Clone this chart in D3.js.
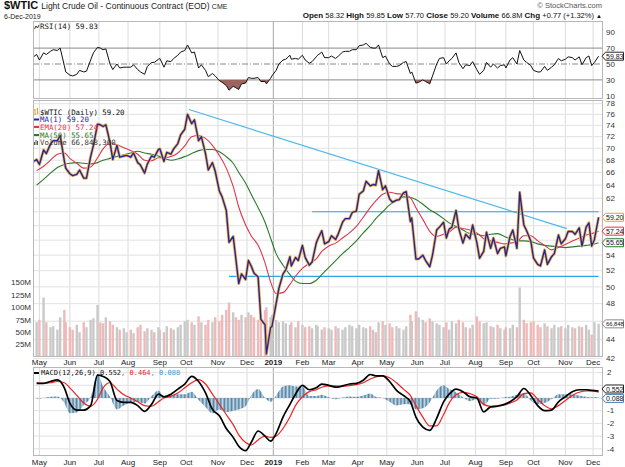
<!doctype html>
<html lang="en">
<head>
<meta charset="UTF-8" />
<title>$WTIC Light Crude Oil</title>
<script src="https://d3js.org/d3.v7.min.js"></script>
<style>
  html,body{margin:0;padding:0;background:#fff;}
  svg{display:block;font-family:Arial,"Liberation Sans",sans-serif;}
  .mono{font-family:"DejaVu Sans Mono",monospace;}
</style>
</head>
<body>
<div id="chart"></div>
<script>
/* ───────── data ───────── */
// market holidays (no bar drawn)
const holidays=["2018-05-28","2018-07-04","2018-09-03","2018-11-22","2018-12-05","2018-12-25",
  "2019-01-01","2019-01-21","2019-02-18","2019-04-19","2019-05-27","2019-07-04","2019-09-02","2019-11-28"];

// closes, two per week (Tue, Fri) from 24-Apr-2018 to 6-Dec-2019
const closes=[
  67.7,68.1, 67.3,69.7, 69.1,70.7, 71.3,71.3, 72.2,67.9,               // May 18
  66.7,65.8, 65.5,65.7, 66.4,65.1, 65.1,68.6, 70.5,74.2,               // Jun
  74.1,73.8, 74.1,71.0, 68.1,70.5, 68.5,68.7,                          // Jul
  68.8,68.5, 69.2,67.6, 67.2,65.9, 67.4,68.7, 68.5,69.8,               // Aug
  69.9,67.8, 69.3,69.0, 69.9,70.8, 72.3,73.3,                          // Sep
  76.0,74.3, 75.0,71.3, 72.0,69.1, 66.4,67.6,                          // Oct
  66.2,63.1, 62.2,60.2, 55.7,56.5, 53.4,50.4, 51.6,50.9,               // Nov
  53.3,52.6, 51.7,51.2, 46.2,45.6, 42.5,45.3,                          // Dec
  45.4,48.0, 49.8,51.6, 52.1,53.8, 52.6,53.7,                          // Jan 19
  53.3,55.3, 53.7,52.7, 53.1,55.6, 56.1,57.3,                          // Feb
  55.5,55.8, 56.6,56.1, 56.9,58.5, 59.0,59.0, 59.9,60.1,               // Mar
  62.6,63.1, 64.6,63.9, 64.1,64.0, 66.3,63.3,                          // Apr
  63.9,61.9, 61.4,61.7, 61.8,62.8, 63.0,58.6, 59.1,53.5,               // May
  53.5,54.0, 53.3,52.5, 54.0,57.4, 57.8,58.5,                          // Jun
  56.3,57.5, 57.8,60.2, 57.6,55.6, 56.8,56.2,                          // Jul
  58.1,55.7, 53.6,54.5, 57.1,54.9, 56.3,54.2, 54.9,55.1,               // Aug
  53.9,56.5, 57.4,54.9, 62.9,58.1, 57.3,55.9,                          // Sep
  53.6,52.8, 52.6,54.7, 52.8,53.8, 54.2,56.7,                          // Oct
  55.5,56.2, 57.2,57.2, 56.8,57.7, 55.2,57.8, 58.4,55.2,               // Nov
  56.1,59.2                                                            // Dec
];

// RSI(14), same two-per-week points
const rsi14=[
  58,62, 55,64, 62,66, 68,67, 70,48,
  40,36, 35,37, 42,40, 41,55, 64,71,
  70,68, 69,50, 43,50, 45,46,
  46,46, 49,43, 40,37, 47,52, 52,56,
  57,46, 54,53, 57,61, 65,67,
  74,64, 65,45, 49,42, 34,38,
  35,29, 27,23, 17,22, 20,18, 25,26,
  33,32, 32,33, 28,28, 25,32,
  35,42, 50,55, 56,61, 56,57,
  56,61, 55,51, 53,59, 61,65,
  58,58, 60,57, 60,65, 66,66, 68,68,
  73,74, 76,71, 70,70, 74,58,
  60,50, 47,47, 48,52, 53,38, 40,26,
  27,30, 28,25, 35,50, 57,58,
  50,54, 57,64, 52,44, 49,48,
  53,43, 37,42, 52,46, 50,45, 48,49,
  45,55, 58,50, 67,55, 52,48,
  42,40, 40,47, 42,46, 49,57,
  54,56, 59,58, 55,59, 49,58, 60,48,
  52,59.83
];

// volume (millions), same two-per-week points
const volumes=[
  65,70, 75,120, 70,60, 62,55, 80,95,
  70,60, 55,65, 50,70, 60,75, 78,105,
  70,68, 80,72, 65,60, 55,58,
  50,55, 48,60, 65,52, 58,55, 50,60,
  55,50, 62,58, 55,60, 65,72,
  75,70, 65,82, 70,65, 75,70,
  80,72, 85,95, 110,90, 80,75, 85,80,
  90,85, 80,75, 88,95, 100,80,
  85,75, 70,72, 68,65, 70,60,
  72,65, 60,62, 58,65, 62,55,
  60,58, 55,62, 58,55, 60,65, 62,58,
  65,60, 58,62, 55,50, 70,72,
  65,68, 60,62, 58,55, 62,85, 72,92,
  80,75, 70,78, 72,68, 65,60,
  70,55, 72,68, 75,70, 60,58,
  65,82, 72,68, 70,62, 60,65, 58,55,
  60,58, 65,60, 140,75, 68,70,
  72,65, 60,68, 62,58, 65,60,
  62,58, 65,60, 58,62, 60,65, 55,45,
  70,66.8
];

// weekly (Friday) indicator values
const ema20=[66.3,67.0,68.0,69.0,69.2, 68.3,67.5,66.7,66.9,68.4, 69.9,70.8,70.6,70.1,
  69.6,69.0,68.0,67.9,68.4, 68.4,68.6,69.2,70.4, 72.0,72.2,71.7,70.5,
  68.8,66.7,63.8,60.7,58.1, 56.6,55.3,53.0,50.6,
  49.2,49.3,50.3,51.3, 52.3,52.9,53.5,54.5, 55.2,55.6,56.3,57.0,57.9,
  59.2,60.6,61.6,62.6, 62.9,62.7,62.6,62.1,60.6, 58.9,57.2,56.5,56.8,
  57.1,57.8,57.6,57.4, 57.0,56.2,55.9,55.7,55.5, 55.6,55.8,56.6,56.6,
  55.9,55.3,54.7,55.0, 55.4,55.9,56.3,56.7,56.9, 57.24];
const ma50=[64.0,64.9,65.9,66.8,67.3, 67.5,67.6,67.5,67.4,67.6, 68.0,68.3,68.6,68.9,
  69.2,69.5,69.2,69.0,68.7, 68.3,68.0,68.2,68.6, 69.1,69.6,69.8,69.8,
  69.4,68.6,67.5,66.0,64.3, 62.6,60.6,58.5,56.3,
  54.2,52.7,51.5,50.7, 50.4,50.4,50.8,51.5, 52.4,53.3,54.2,55.0,55.9,
  57.0,58.0,59.0,60.0, 61.0,61.7,62.2,62.1,61.8, 61.1,60.3,59.7,59.0,
  58.4,57.9,57.4,56.9, 56.8,56.6,56.8,56.9,56.5, 56.2,55.9,55.9,55.8,
  55.5,55.3,55.2,55.1, 55.0,55.1,55.2,55.3,55.4, 55.65];
const macdLine=[1.15,1.15,1.3,1.42,0.8, -0.4,-0.95,-0.95,-0.6,1.8, 1.7,1.3,-0.2,-0.35,
  -0.35,-0.6,-1.05,-0.5,0.3, 0.1,0.3,0.7,1.1, 1.7,1.3,0.4,-0.9,
  -1.4,-2.4,-3.1,-3.8,-4.15, -3.5,-2.6,-3.0,-3.4,
  -2.8,-1.5,-0.5,0.3, 1.0,0.65,0.8,1.1, 1.0,0.85,0.95,1.1,1.15,
  1.4,1.85,1.75,1.75, 1.3,0.6,0.2,-0.3,-1.5, -2.3,-2.55,-1.6,-0.3,
  0.3,0.7,0.5,0.1, 0.0,-1.1,-0.7,-0.65,-0.5, -0.3,0.1,0.75,0.2,
  -0.6,-1.0,-0.95,-0.3, 0.1,0.5,0.65,0.65,0.6, 0.552];
const macdSignal=[1.2,1.15,1.2,1.3,1.2, 0.8,0.2,-0.4,-0.65,-0.1, 0.8,1.2,0.7,0.25,
  0.0,-0.3,-0.6,-0.65,-0.3, 0.0,0.15,0.4,0.8, 1.2,1.45,1.1,0.3,
  -0.5,-1.3,-2.1,-2.9,-3.5, -3.7,-3.3,-3.0,-3.1,
  -3.0,-2.4,-1.5,-0.6, 0.1,0.5,0.65,0.85, 0.95,0.95,0.92,0.98,1.05,
  1.2,1.5,1.65,1.75, 1.6,1.2,0.7,0.2,-0.6, -1.5,-2.2,-2.2,-1.3,
  -0.4,0.25,0.45,0.35, 0.1,-0.5,-0.65,-0.6,-0.55, -0.4,-0.15,0.35,0.4,
  -0.1,-0.6,-0.85,-0.6, -0.2,0.2,0.45,0.55,0.55, 0.464];

// drawn trend / support / resistance lines  [date, price]
const trendLine=[["2018-10-03",76.9],["2019-11-04",57.6]];
const resistance=[["2019-02-12",60.0],["2019-12-06",60.0]];
const support=[["2018-11-13",51.3],["2019-12-06",51.3]];

const priceTicks=[42,44,46,48,50,52,54,56,58,60,62,64,66,68,70,72,74,76,78];
const volTicks=[25,50,75,100,125,150];
const rsiTicks=[10,30,50,70,90];
const macdTicks=[-4,-3,-2,-1,0,1,2];

/* ───────── geometry ───────── */
const W=625,H=467,L=33,R=603;
const RSI_T=21,RSI_B=99,PR_T=100,PR_B=357,MC_T=367,MC_B=456;

const svg=d3.select('#chart').append('svg').attr('width',W).attr('height',H);

const fmt=d3.timeFormat('%Y-%m-%d');
const days=d3.timeDay.range(new Date(2018,3,24),new Date(2019,11,7))
  .filter(d=>d.getDay()!==0&&d.getDay()!==6&&!holidays.includes(fmt(d)));
const dayIdx=new Map(days.map((d,i)=>[fmt(d),i]));
const x=d3.scaleLinear().domain([0,days.length-1]).range([32.5,598.6]);

const weeks=d3.groups(days.map((d,i)=>({d,i})),o=>+d3.timeWeek.floor(o.d)).map(g=>g[1]);
const weekEnd=weeks.map(w=>w[w.length-1].i);
const weekMid=weeks.map(w=>{const t=w.find(o=>o.d.getDay()===2);return t?t.i:w.filter(o=>o.d.getDay()<2).pop().i;});
const halfIdx=weeks.flatMap((w,k)=>[weekMid[k],weekEnd[k]]);
const monthIdx=days.map((d,i)=>i).filter(i=>i>0&&days[i].getMonth()!==days[i-1].getMonth());

const yP=d3.scaleLog().domain([42.17,78.7]).range([PR_B,PR_T]);
const yV=d3.scaleLinear().domain([0,518]).range([PR_B,PR_T]);
const yR=d3.scaleLinear().domain([5.97,104.1]).range([RSI_B,RSI_T]);
const yM=d3.scaleLinear().domain([-4.567,2.441]).range([MC_B,MC_T]);

const defs=svg.append('defs');
[['clipR',RSI_T,RSI_B],['clipP',PR_T,PR_B],['clipM',MC_T,MC_B]].forEach(([id,t,b])=>{
  defs.append('clipPath').attr('id',id).append('rect').attr('x',L).attr('y',t).attr('width',R-L).attr('height',b-t);
});
const pat=defs.append('pattern').attr('id','histStripes').attr('patternUnits','userSpaceOnUse')
  .attr('width',1.384).attr('height',10);
pat.append('rect').attr('width',0.9).attr('height',10).attr('fill','#4f83a6');

/* ───────── panel backgrounds + grids ───────── */
function panel(t,b,hLines,yScale){
  const g=svg.append('g');
  g.append('rect').attr('x',L).attr('y',t).attr('width',R-L).attr('height',b-t).attr('fill','#fff');
  g.selectAll('line.v').data(monthIdx).join('line')
    .attr('x1',i=>x(i)).attr('x2',i=>x(i)).attr('y1',t).attr('y2',b)
    .attr('stroke',i=>days[i].getMonth()===0?'#a8a8a8':'#dcdcdc').attr('stroke-width',1);
  g.selectAll('line.h').data(hLines).join('line')
    .attr('x1',L).attr('x2',R).attr('y1',d=>yScale(d)).attr('y2',d=>yScale(d))
    .attr('stroke','#e2e2e2').attr('stroke-width',1);
  return g;
}
panel(RSI_T,RSI_B,[],yR);
panel(PR_T,PR_B,priceTicks,yP);
panel(MC_T,MC_B,macdTicks,yM);

/* ───────── RSI ───────── */
const gR=svg.append('g').attr('clip-path','url(#clipR)');
[70,30].forEach(v=>gR.append('line').attr('x1',L).attr('x2',R).attr('y1',yR(v)).attr('y2',yR(v))
  .attr('stroke','#8a8a8a').attr('stroke-width',1));
gR.append('line').attr('x1',L).attr('x2',R).attr('y1',yR(50)).attr('y2',yR(50))
  .attr('stroke','#8a8a8a').attr('stroke-dasharray','6,2,1,2');
defs.append('clipPath').attr('id','below30').append('rect')
  .attr('x',L).attr('y',yR(30)).attr('width',R-L).attr('height',RSI_B-yR(30));
gR.append('path').attr('clip-path','url(#below30)')
  .attr('d',d3.area().x((d,k)=>x(halfIdx[k])).y0(yR(30)).y1(d=>yR(d))(rsi14))
  .attr('fill','#9e645e');
gR.append('path').attr('d',d3.line().x((d,k)=>x(halfIdx[k])).y(d=>yR(d))(rsi14))
  .attr('fill','none').attr('stroke','#111').attr('stroke-width',1);

/* ───────── price panel ───────── */
const gP=svg.append('g').attr('clip-path','url(#clipP)');
gP.selectAll('rect.vol').data(volumes).join('rect')
  .attr('x',(d,k)=>x(halfIdx[k])-1.2).attr('width',2.4)
  .attr('y',d=>yV(d)).attr('height',d=>PR_B-yV(d))
  .attr('fill',(d,k)=>k>0&&closes[k]<closes[k-1]?'#eeb9b9':'#c9c9c9');

const lineAt=pts=>d3.line().x(p=>x(dayIdx.get(p[0]))).y(p=>yP(p[1]))(pts);
[trendLine,resistance,support].forEach(pts=>gP.append('path').attr('d',lineAt(pts))
  .attr('fill','none').attr('stroke',pts===trendLine?'#4db8ec':'#29a8e8').attr('stroke-width',1.2));

const wline=arr=>d3.line().curve(d3.curveMonotoneX).x((d,k)=>x(weekEnd[k])).y(d=>yP(d))(arr);
gP.append('path').attr('d',wline(ma50)).attr('fill','none').attr('stroke','#2b7a2b').attr('stroke-width',1.1);
gP.append('path').attr('d',wline(ema20)).attr('fill','none').attr('stroke','#e0364a').attr('stroke-width',1.1);
const closePath=d3.line().x((d,k)=>x(halfIdx[k])).y(d=>yP(d))(closes);
gP.append('path').attr('d',closePath).attr('fill','none').attr('stroke','#f0b452').attr('stroke-width',3)
  .attr('stroke-linejoin','round');
gP.append('path').attr('d',closePath).attr('fill','none').attr('stroke','#23259a').attr('stroke-width',1.4)
  .attr('stroke-linejoin','round');

/* ───────── MACD ───────── */
const gM=svg.append('g').attr('clip-path','url(#clipM)');
gM.append('path')
  .attr('d',d3.area().curve(d3.curveMonotoneX).x((d,k)=>x(weekEnd[k])).y0(yM(0)).y1((d,k)=>yM(d-macdSignal[k]))(macdLine))
  .attr('fill','url(#histStripes)');
const mline=arr=>d3.line().curve(d3.curveMonotoneX).x((d,k)=>x(weekEnd[k])).y(d=>yM(d))(arr);
gM.append('path').attr('d',mline(macdSignal)).attr('fill','none').attr('stroke','#ee2222').attr('stroke-width',1.2);
gM.append('path').attr('d',mline(macdLine)).attr('fill','none').attr('stroke','#000').attr('stroke-width',1.7);

/* ───────── borders ───────── */
[[RSI_T,RSI_B],[PR_T,PR_B],[MC_T,MC_B]].forEach(([t,b])=>svg.append('rect')
  .attr('x',L+0.5).attr('y',t+0.5).attr('width',R-L-1).attr('height',b-t-1)
  .attr('fill','none').attr('stroke','#b8b8b8'));

/* ───────── value tags (positions used to hide covered tick labels) ───────── */
const last=a=>a[a.length-1];
const tags=[
  {y:yR(last(rsi14)),t:'59.83',c:'#222'},
  {y:yV(last(volumes)),t:'66,848',c:'#888'},
  {y:yP(last(ma50)),t:'55.65',c:'#2b7a2b'},
  {y:yP(last(ema20)),t:'57.24',c:'#e0364a'},
  {y:yP(last(closes)),t:'59.20',c:'#e0a040'},
  {y:yM(last(macdLine)-last(macdSignal))+1.5,t:'0.088',c:'#4a78c0'},
  {y:yM(last(macdLine))-2,t:'0.552',c:'#222'}
];
const covered=y=>tags.some(t=>Math.abs(t.y-y)<7);

/* ───────── axes text ───────── */
const tick=(y,t,anchor,xx)=>svg.append('text').attr('x',xx).attr('y',y).attr('dy','0.35em')
  .attr('text-anchor',anchor).style('font-size','8px').attr('fill','#333').text(t);
rsiTicks.filter(v=>!covered(yR(v))).forEach(v=>tick(yR(v),v,'start',606));
priceTicks.filter(v=>!covered(yP(v))).forEach(v=>tick(yP(v),v,'start',606));
volTicks.forEach(v=>tick(yV(v),v+'M','end',31));
macdTicks.filter(v=>!covered(yM(v))).forEach(v=>tick(yM(v),v,'start',607));

const monthLbl=(y)=>monthIdx.forEach(i=>{
  const d=days[i];
  svg.append('text').attr('x',Math.max(x(i),39)).attr('y',y).attr('text-anchor','middle')
    .style('font-size','8px').style('font-weight',d.getMonth()===0?'bold':'normal').attr('fill','#222')
    .text(d.getMonth()===0?d.getFullYear():d3.timeFormat('%b')(d));
});
monthLbl(365); monthLbl(465);

tags.forEach(({y,t,c})=>{
  const g=svg.append('g').attr('transform',`translate(${R-1},${y})`);
  g.append('path').attr('d','M0,0 L3.5,-4 H21.5 V4 H3.5 Z').attr('fill','#fff').attr('stroke',c);
  g.append('text').attr('x',4).attr('y',0).attr('dy','0.36em').style('font-size',t.length>5?'5.8px':'7px')
    .attr('fill','#111').text(t);
});

/* ───────── legends ───────── */
const leg=(yy,t,col)=>svg.append('text').attr('class','mono').attr('x',40).attr('y',yy).attr('dy','0.35em')
  .style('font-size','7.4px').attr('fill',col).text(t);
// RSI
svg.append('path').attr('d',`M34.5,${RSI_T+8} l1.5,-3 l1.5,2 l1.5,-3`).attr('fill','none').attr('stroke','#333');
leg(RSI_T+5,'RSI(14) 59.83','#111');
// price legend
svg.append('path').attr('d','M35,109 v6 M34,110 h1 M35,114 h1 M37.5,108 v6 M36.5,109 h1 M37.5,113 h1')
  .attr('stroke','#e0a030').attr('fill','none');
leg(112,'$WTIC (Daily) 59.20','#111');
svg.append('line').attr('x1',34).attr('x2',39).attr('y1',119.5).attr('y2',119.5).attr('stroke','#23259a').attr('stroke-width',2);
leg(119.5,'MA(1) 59.20','#23259a');
svg.append('line').attr('x1',34).attr('x2',39).attr('y1',127).attr('y2',127).attr('stroke','#e0364a').attr('stroke-width',2);
leg(127,'EMA(20) 57.24','#e0364a');
svg.append('line').attr('x1',34).attr('x2',39).attr('y1',135).attr('y2',135).attr('stroke','#2b7a2b').attr('stroke-width',2);
leg(135,'MA(50) 55.65','#2b7a2b');
svg.append('path').attr('d','M34.5,145 v-3 M36,145 v-5 M37.5,145 v-4').attr('stroke','#555');
leg(142.5,'Volume 66,848,300','#333');
// MACD legend
svg.append('line').attr('x1',34).attr('x2',39).attr('y1',MC_T+6).attr('y2',MC_T+6).attr('stroke','#000').attr('stroke-width',2);
const mt=svg.append('text').attr('class','mono').attr('x',41).attr('y',MC_T+6).attr('dy','0.35em').style('font-size','7px');
mt.append('tspan').attr('fill','#111').text('MACD(12,26,9) 0.552');
mt.append('tspan').attr('fill','#e22').text(', 0.464');
mt.append('tspan').attr('fill','#3a9ad0').text(', 0.088');

/* ───────── header ───────── */
const hd=svg.append('text').attr('x',4).attr('y',9);
hd.append('tspan').style('font-size','11px').style('font-weight','bold').attr('fill','#111').text('$WTIC ');
hd.append('tspan').style('font-size','8.5px').attr('fill','#222').text('Light Crude Oil - Continuous Contract (EOD) ');
hd.append('tspan').style('font-size','7px').attr('fill','#222').text('CME');
svg.append('text').attr('x',4).attr('y',18.5).style('font-size','7px').attr('fill','#222').text('6-Dec-2019');
svg.append('text').attr('x',602).attr('y',8).attr('text-anchor','end').style('font-size','7.5px')
  .attr('fill','#555').text('© StockCharts.com');
const ohlc=svg.append('text').attr('x',602).attr('y',18).attr('text-anchor','end').style('font-size','7.5px').attr('fill','#111');
[['Open','58.32'],['High','59.85'],['Low','57.70'],['Close','59.20'],['Volume','66.8M'],['Chg','+0.77 (+1.32%)']]
  .forEach(([k,v])=>{
    ohlc.append('tspan').style('font-weight','bold').style('font-size','8px').text(k+' ');
    ohlc.append('tspan').text(v+' ');
  });
ohlc.append('tspan').style('font-size','6px').text('▲');
</script>
</body>
</html>
